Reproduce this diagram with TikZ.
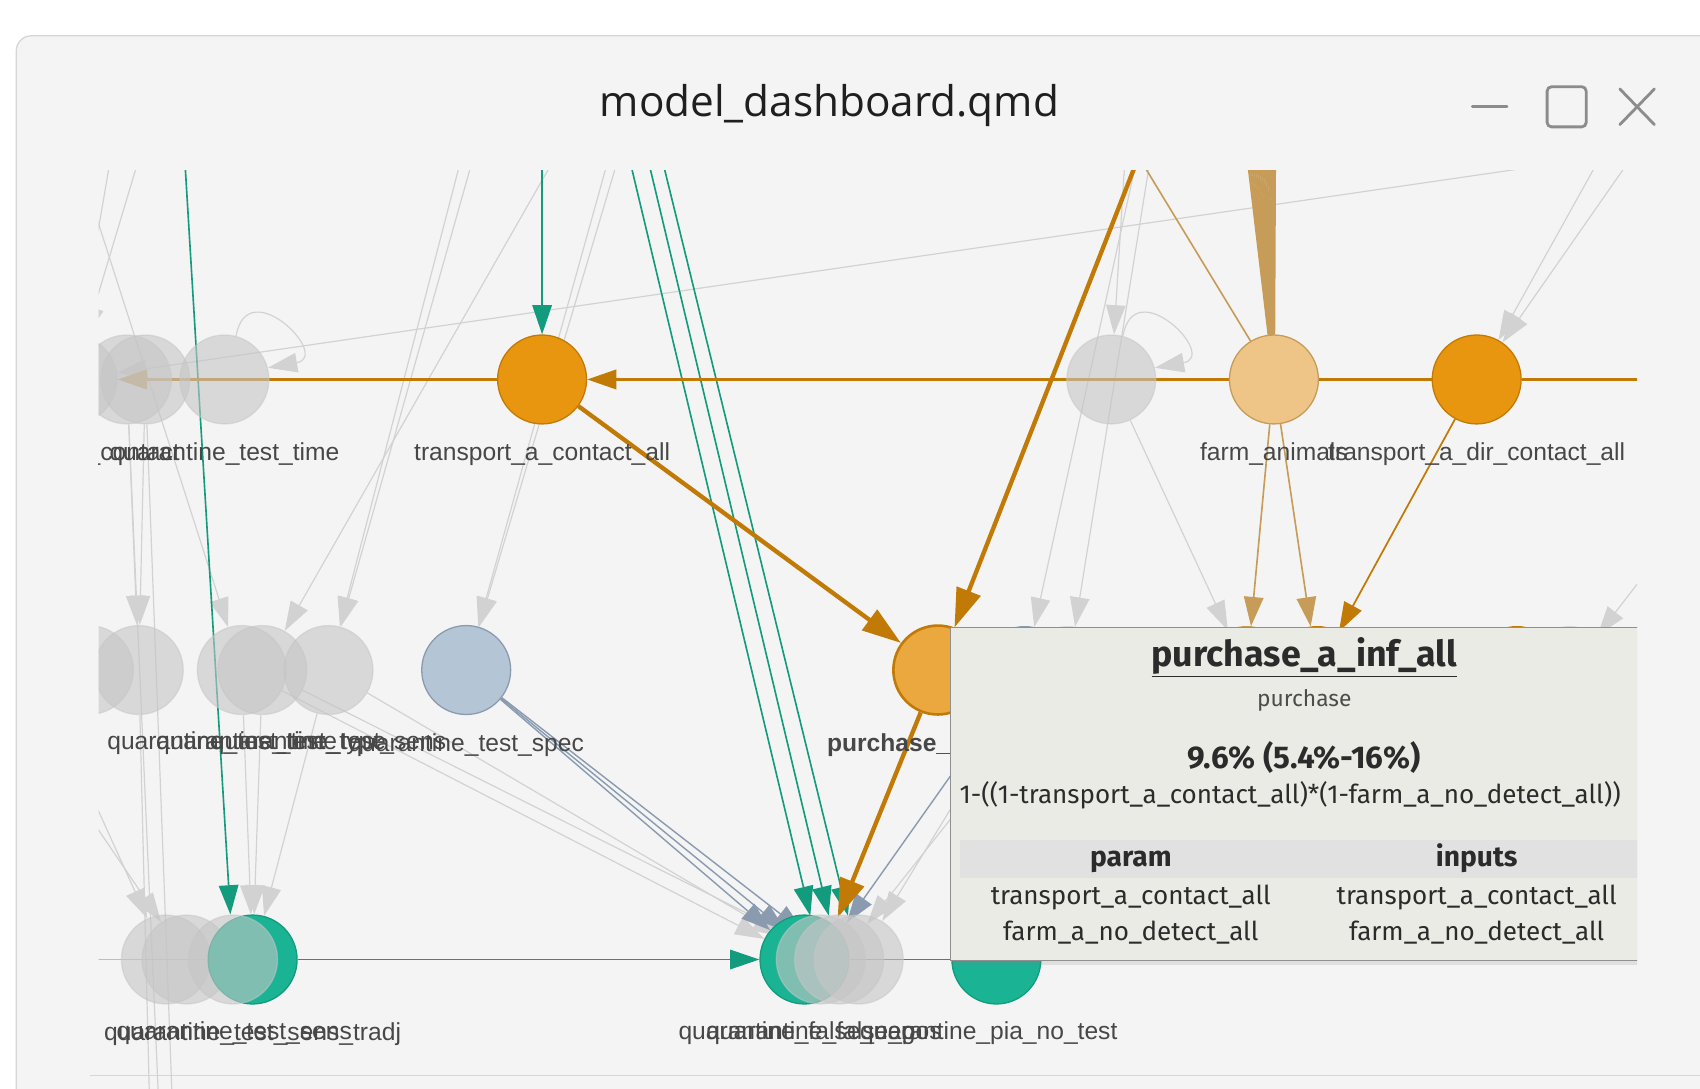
\documentclass[tikz,border=0pt]{standalone}
\usepackage{fontspec}
\setmainfont{Liberation Sans}
\newfontfamily\tipfont{Fira Sans}
\newfontfamily\winfont{Open Sans}
\usetikzlibrary{arrows.meta,positioning,shadows}
\pgfdeclarelayer{back}
\pgfdeclarelayer{edges}
\pgfsetlayers{back,edges,main}

\definecolor{winbg}{HTML}{F4F4F4}
\definecolor{winbd}{HTML}{D6D6D6}
\definecolor{btngrey}{HTML}{8C8C8C}
\definecolor{orfill}{HTML}{E8960F}
\definecolor{orline}{HTML}{C27A06}
\definecolor{pafill}{HTML}{EBA83F}
\definecolor{tanfill}{HTML}{EEC586}
\definecolor{tanline}{HTML}{C69C58}
\definecolor{tealfill}{HTML}{1AB394}
\definecolor{tealline}{HTML}{129B7C}
\definecolor{bluefill}{HTML}{B4C5D5}
\definecolor{blueline}{HTML}{8A9BB0}
\definecolor{greyfill}{HTML}{C6C6C6}
\definecolor{greyline}{HTML}{D2D2D2}
\definecolor{lbltext}{HTML}{474747}
\definecolor{tipbg}{HTML}{EBEBE5}
\definecolor{tipbd}{HTML}{8F8F8F}
\definecolor{tiphead}{HTML}{E1E1E1}
\definecolor{tiptext}{HTML}{2B2B2B}

\begin{document}
\begin{tikzpicture}[x=1pt,y=1pt,
  vnode/.style={circle,minimum size=82pt,inner sep=0pt,line width=1.2pt},
  gnode/.style={vnode,fill=greyfill,fill opacity=0.6,draw=greyfill,draw opacity=0.5},
  onode/.style={vnode,fill=orfill,draw=orline},
  fnode/.style={vnode,fill=tanfill,draw=tanline},
  tnode/.style={vnode,fill=tealfill,draw=tealline},
  bnode/.style={vnode,fill=bluefill,draw=blueline},
  lbl/.style={font=\fontsize{22.7}{26}\selectfont,text=lbltext,inner sep=0pt,text height=16pt,text depth=5pt},
  lblb/.style={lbl,font=\fontsize{22.7}{26}\selectfont\bfseries},
  thin tip/.style={-{Triangle[length=27pt,width=18pt]}},
  gedge/.style={thin tip,draw=greyline,line width=1.1pt},
  tedge/.style={thin tip,draw=tealline,line width=1.5pt},
  bedge/.style={thin tip,draw=blueline,line width=1.3pt},
  fedge/.style={thin tip,draw=tanline,line width=1.5pt},
  oedge/.style={thin tip,draw=orline,line width=2.4pt},
  othick/.style={-{Triangle[length=36pt,width=23pt]},draw=orline,line width=4pt},
  btn/.style={draw=btngrey,line width=2.6pt,line cap=round},
  tiptxt/.style={font=\tipfont\fontsize{24}{28}\selectfont,text=tiptext,inner sep=0pt,text height=18pt,text depth=6pt},
  tipbold/.style={tiptxt,font=\tipfont\fontsize{26}{30}\selectfont\bfseries}]

\useasboundingbox (0,0) rectangle (1568,-1004);

% window
\begin{pgfonlayer}{back}
\fill[white] (0,0) rectangle (1568,-1004);
\draw[draw=winbd,fill=winbg,line width=1.2pt,rounded corners=14pt] (15,-33) rectangle (1640,-1060);
\draw[draw=winbd,line width=1.5pt] (83,-992) -- (1568,-992);
\end{pgfonlayer}

\node[font=\winfont\fontsize{39}{46}\selectfont,text=black!88] (title) at (765,-97) {model\_dashboard.qmd};
\draw[btn] (1358,-98) -- (1390,-98);
\draw[btn,rounded corners=4pt] (1427,-80) rectangle (1463,-117);
\draw[btn] (1494,-82) -- (1526,-115);
\draw[btn] (1494,-115) -- (1526,-82);

\begin{scope}
\clip (91,-157) rectangle (1510,-1004);

% row 1
\node[gnode] (g_ctA) at (67,-350) {};
\node[gnode] (g_ctB) at (117,-350) {};
\node[gnode] (g_ctC) at (134,-350) {};
\node[gnode] (g_tt) at (207,-350) {};
\node[onode] (ttc) at (500,-350) {};
\node[gnode] (g_r1) at (1025,-350) {};
\node[fnode] (fa) at (1175,-350) {};
\node[onode] (tdc) at (1362,-350) {};

% row 2
\node[gnode] (g_r2a) at (82,-618) {};
\node[gnode] (g_r2b) at (128,-618) {};
\node[gnode] (g_r2c) at (223,-618) {};
\node[gnode] (g_r2d) at (242,-618) {};
\node[gnode] (g_r2e) at (303,-618) {};
\node[bnode] (tsp) at (430,-618) {};
\node[onode,fill=pafill,line width=2.4pt] (pai) at (865,-618) {};
\node[bnode] (h1) at (945,-619) {};
\node[gnode] (h2) at (985,-619) {};
\node[fnode] (h3) at (1150,-619) {};
\node[onode] (h4) at (1215,-619) {};
\node[onode] (h5) at (1399,-619) {};
\node[gnode] (h6) at (1448,-619) {};

% row 3
\node[gnode] (g_b1) at (153,-885) {};
\node[gnode] (g_b2) at (172,-885) {};
\node[tnode] (t_l) at (233,-885) {};
\node[gnode] (g_b3) at (215,-885) {};
\node[tnode] (m_a) at (742,-885) {};
\node[gnode] (m_b) at (757,-885) {};
\node[gnode] (m_c) at (774,-885) {};
\node[gnode] (m_d) at (792,-885) {};
\node[tnode] (n_pia) at (919,-885) {};

% labels
\node[lbl,anchor=east] (l_ct) at (166,-419) {\_contact};
\node[lbl,below=17pt of g_tt] (l_tt) {quarantine\_test\_time};
\node[lbl,below=17pt of ttc] (l_ttc) {transport\_a\_contact\_all};
\node[lbl,below=17pt of fa] (l_fa) {farm\_animals};
\node[lbl,below=17pt of tdc] (l_tdc) {transport\_a\_dir\_contact\_all};
\node[lbl] (l_r2c) at (205,-686) {quarantine\_test\_time};
\node[lbl] (l_r2d) at (250,-686) {quarantine\_test\_type};
\node[lbl] (l_r2e) at (303,-686) {quarantine\_test\_sens};
\node[lbl,below=17pt of tsp] (l_tsp) {quarantine\_test\_spec};
\node[lblb,below=17pt of pai] (l_pai) {purchase\_a\_inf\_all};
\node[lbl] (l_b1) at (216,-953) {quarantine\_test\_sens};
\node[lbl,below=17pt of t_l] (l_tl) {quarantine\_test\_sens\_tradj};
\node[lbl] (l_ma) at (735,-953) {quarantine\_false\_neg};
\node[lbl] (l_mb) at (760,-953) {quarantine\_false\_pos};
\node[lbl] (l_pia) at (912,-953) {quarantine\_pia\_no\_test};

% edges
\begin{pgfonlayer}{edges}
\begin{scope}
\clip (91,-157) rectangle (1510,-1004);
\coordinate (t_teal1) at (500,-140);
\coordinate (t_teal2) at (170,-140);
\coordinate (t_teal3) at (579,-140);
\coordinate (t_teal4) at (596,-140);
\coordinate (t_teal5) at (609,-140);
\coordinate (t_or) at (1052,-140);
\coordinate (t_tan) at (1023,-100);
\coordinate (t_g1) at (1050,-140);
\coordinate (t_g2) at (1062,-140);
\coordinate (t_g3) at (1038,-140);
\coordinate (t_g4) at (1476,-145);
\coordinate (t_g5) at (1505,-145);
\coordinate (t_g6) at (438,-140);
\coordinate (t_g7) at (427,-140);
\coordinate (t_g8) at (515,-140);
\coordinate (t_g9) at (563,-140);
\coordinate (t_g10) at (572,-140);
\coordinate (t_g11) at (60,-110);
\coordinate (t_g12) at (130,-140);
\coordinate (t_g13) at (103,-140);
\coordinate (l_g1) at (60,-680);
\coordinate (l_g2) at (60,-720);
\coordinate (l_t) at (40,-885);
\coordinate (b_g1) at (140,-1100);
\coordinate (b_g2) at (150,-1100);
\coordinate (b_g3) at (162,-1100);
\coordinate (c_or) at (1600,-350);
\coordinate (r_g) at (1540,-500);
\coordinate (u_g) at (905,-700);

\draw[gedge] (t_g4) -- (g_ctA);
\draw[gedge] (t_g4) -- (tdc);
\draw[gedge] (t_g5) -- (tdc);
\draw[gedge] (t_g12) -- (g_ctA);
\draw[gedge] (t_g13) -- (g_ctA);
\draw[gedge] (t_g11) -- (g_r2c);
\draw[gedge] (t_g6) -- (g_r2e);
\draw[gedge] (t_g7) -- (g_r2e);
\draw[gedge] (t_g8) -- (g_r2d);
\draw[gedge] (t_g9) -- (tsp);
\draw[gedge] (t_g10) -- (tsp);
\draw[gedge] (t_g3) -- (g_r1);
\draw[gedge] (t_g1) -- (h1);
\draw[gedge] (t_g2) -- (h2);
\draw[gedge] (g_r1) -- (h3);
\draw[gedge] (r_g) -- (h6);
\draw[gedge] (g_ctB) -- (g_r2b);
\draw[gedge] (g_ctC) -- (g_r2b);
\draw[gedge] (g_r2b) -- (b_g1);
\draw[gedge] (g_ctB) -- (b_g2);
\draw[gedge] (g_ctC) -- (b_g3);
\draw[gedge] (l_g1) -- (g_b1);
\draw[gedge] (l_g2) -- (g_b2);
\draw[gedge] (g_r2c) -- (t_l);
\draw[gedge] (g_r2d) -- (t_l);
\draw[gedge] (g_r2e) -- (t_l);
\draw[gedge] (g_r2c) -- (m_a);
\draw[gedge] (g_r2e) -- (m_b);
\draw[gedge] (g_r2d) -- (m_c);
\draw[gedge] (h2) -- (m_c);
\draw[gedge] (u_g) -- (m_d);
\draw[gedge] (g_tt.75) .. controls +(80:60) and +(10:60) .. (g_tt.15);
\draw[gedge] (g_r1.75) .. controls +(80:60) and +(10:60) .. (g_r1.15);

\draw[bedge] (tsp) -- (m_a);
\draw[bedge] (tsp) -- (m_b);
\draw[bedge] (tsp) -- (m_c);
\draw[bedge] (h1) -- (m_b);

\draw[tedge] (t_teal1) -- (ttc);
\draw[tedge] (t_teal2) -- (g_b3);
\draw[tedge] (t_teal3) -- (m_b);
\draw[tedge] (t_teal4) -- (m_c);
\draw[tedge] (t_teal5) -- (m_d);
\draw[tedge] (t_l) -- (m_a);
\draw[tedge,-] (n_pia) -- (m_a);
\draw[tedge,-,draw=tealline!45] (l_t) -- (t_l);

\foreach \i/\x in {1/1150,2/1152,3/1154,4/1156,5/1158,6/1160,7/1162,8/1164,9/1166,10/1168,11/1170,12/1172,13/1174,14/1176}{
  \coordinate (fan\i) at (\x,-140);
  \draw[fedge,-,line width=2pt] (fa) -- (fan\i);
}
\draw[fedge] (fa) -- (t_tan);
\draw[fedge] (fa) -- (h3);
\draw[fedge] (fa) -- (h4);

\draw[oedge] (tdc) -- (ttc);
\draw[oedge] (ttc) -- (g_ctA);
\draw[oedge] (tdc) -- (c_or);
\draw[oedge,line width=1.6pt] (tdc) -- (h4);
\draw[othick] (ttc) -- (pai);
\draw[othick] (t_or) -- (pai);
\draw[othick] (pai) -- (m_b);
\end{scope}
\end{pgfonlayer}

% tooltip
\node[draw=tipbd,fill=tipbg,line width=0.8pt,minimum width=654pt,minimum height=307pt,anchor=north west,inner sep=0pt,
  drop shadow={opacity=0.18,shadow xshift=3pt,shadow yshift=-5pt}] (tipbox) at (876,-578) {};
\node[tipbold,font=\tipfont\fontsize{33}{38}\selectfont\bfseries,text height=24pt,text depth=8pt] (tip_name) at (1203,-607) {\underline{purchase\_a\_inf\_all}};
\node[tiptxt,font=\tipfont\fontsize{21}{25}\selectfont,text=black!70,text height=15pt,text depth=5pt] (tip_grp) at (1203,-647) {purchase};
\node[tipbold,font=\tipfont\fontsize{29}{34}\selectfont\bfseries,text height=21pt,text depth=7pt] (tip_val) at (1203,-702) {9.6\% (5.4\%-16\%)};
\node[tiptxt,anchor=west] (tip_eq) at (885,-735) {1-((1-transport\_a\_contact\_all)*(1-farm\_a\_no\_detect\_all))};
\node[fill=tiphead,minimum width=650pt,minimum height=35pt,anchor=north west,inner sep=0pt] (tip_head) at (885,-775) {};
\node[tipbold] (tip_h1) at (1043,-793) {param};
\node[tipbold] (tip_h2) at (1362,-793) {inputs};
\node[tiptxt] (tip_p1) at (1043,-828) {transport\_a\_contact\_all};
\node[tiptxt] (tip_i1) at (1362,-828) {transport\_a\_contact\_all};
\node[tiptxt] (tip_p2) at (1043,-861) {farm\_a\_no\_detect\_all};
\node[tiptxt] (tip_i2) at (1362,-861) {farm\_a\_no\_detect\_all};
\end{scope}
\end{tikzpicture}
\end{document}
